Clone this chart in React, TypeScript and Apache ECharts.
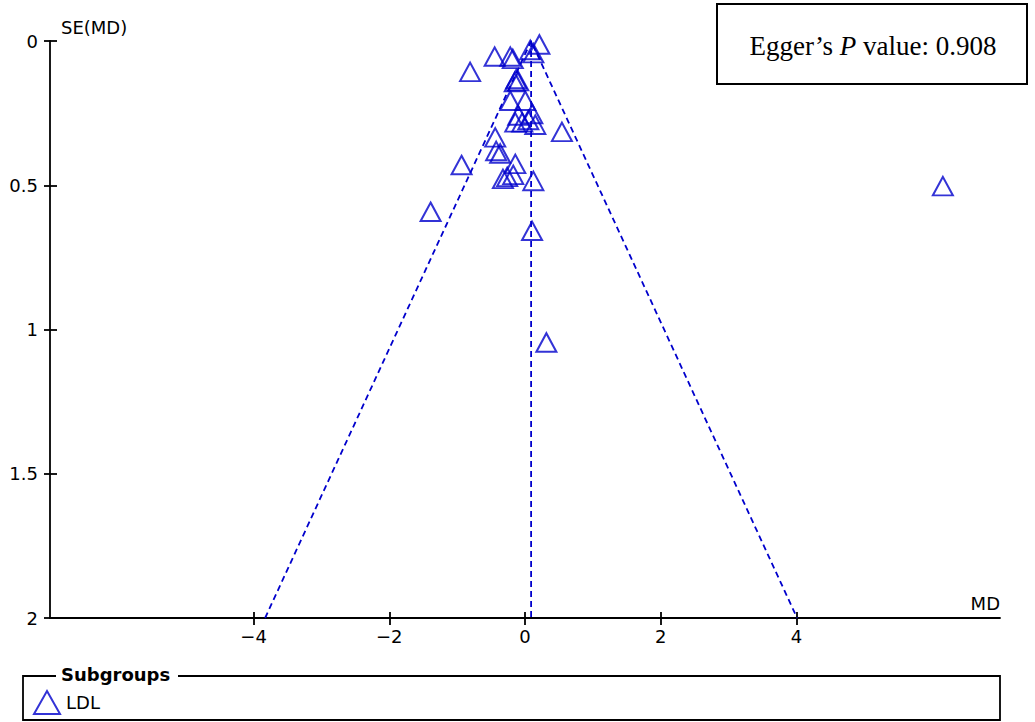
import React, { useEffect, useRef } from "react";
import * as echarts from "echarts";

// Study estimates (mean difference) and their standard errors
const md: number[] = [
  0.212, 0.078, 0.123, -0.447, -0.217, -0.18, -0.809, -0.129, -0.151, -0.099,
  -0.217, 0.004, -0.099, 0.108, -0.143, -0.04, 0.152, 0.049, 0.544, -0.439,
  -0.425, -0.366, -0.935, -0.143, -0.325, -0.262, -0.173, 0.123, -1.391, 0.104,
  0.315, 6.158,
];
const se: number[] = [
  0.012, 0.031, 0.042, 0.054, 0.054, 0.062, 0.107, 0.132, 0.142, 0.139,
  0.207, 0.207, 0.258, 0.253, 0.282, 0.282, 0.29, 0.274, 0.315, 0.334,
  0.381, 0.39, 0.43, 0.426, 0.478, 0.471, 0.464, 0.485, 0.592, 0.658,
  1.045, 0.503,
];

const xTicks: number[] = [-4, -2, 0, 2, 4];
const yTicks: number[] = [0, 0.5, 1, 1.5, 2];
const pooledMD = 0.09;
const seMax = 2;
const zCrit = 1.96;
const subgroup = "LDL";
const eggerP = "0.908";

const BLUE = "#0000CC";
const FONT = "DejaVu Sans";

const fmt = (v: number) => String(v).replace("-", "\u2212");

export default function App() {
  const ref = useRef<HTMLDivElement>(null);

  useEffect(() => {
    if (!ref.current) return;
    const chart = echarts.init(ref.current, undefined, { renderer: "svg" });

    const points = md.map((m, i) => [m, se[i]]);
    const funnel = [
      [pooledMD - zCrit * seMax, seMax],
      [pooledMD, 0],
      [pooledMD + zCrit * seMax, seMax],
    ];
    const center = [
      [pooledMD, 0],
      [pooledMD, seMax],
    ];

    const dashed = {
      type: "line",
      symbol: "none",
      silent: true,
      lineStyle: { color: BLUE, width: 1.8, type: [6, 4] },
      z: 1,
    };

    const axisText = { color: "#000", fontFamily: FONT, fontSize: 18 };
    const tickStyle = { color: "#000", width: 1.8 };

    chart.setOption({
      animation: false,
      grid: { left: 50, right: 35, top: 41, bottom: 104 },
      legend: {
        data: [{ name: subgroup, icon: "triangle" }],
        left: 28,
        top: 685,
        itemWidth: 26,
        itemHeight: 23,
        itemStyle: { color: "transparent", borderColor: BLUE, borderWidth: 2 },
        textStyle: { ...axisText, padding: [0, 0, 0, 1] },
        selectedMode: false,
      },
      xAxis: [
        {
          type: "value",
          min: -7,
          max: 7,
          position: "bottom",
          name: "MD",
          nameLocation: "end",
          nameGap: 0,
          nameTextStyle: {
            ...axisText,
            align: "right",
            verticalAlign: "bottom",
            padding: [0, 0, 6, 0],
          },
          axisLine: { show: true, onZero: false, lineStyle: tickStyle },
          axisTick: { show: true, length: 7, customValues: xTicks, lineStyle: tickStyle },
          axisLabel: { ...axisText, margin: 9, customValues: xTicks, formatter: fmt },
          splitLine: { show: false },
        },
        {
          type: "value",
          min: -7,
          max: 7,
          position: "bottom",
          axisLine: { show: false, onZero: false },
          axisTick: { show: true, inside: true, length: 6, customValues: xTicks, lineStyle: tickStyle },
          axisLabel: { show: false },
          splitLine: { show: false },
        },
      ],
      yAxis: [
        {
          type: "value",
          min: 0,
          max: 2,
          interval: 0.5,
          inverse: true,
          position: "left",
          name: "SE(MD)",
          nameLocation: "start",
          nameGap: 5,
          nameTextStyle: {
            ...axisText,
            align: "left",
            verticalAlign: "bottom",
            padding: [0, 0, 0, 11],
          },
          axisLine: { show: true, onZero: false, lineStyle: tickStyle },
          axisTick: { show: true, length: 6, lineStyle: tickStyle },
          axisLabel: { ...axisText, margin: 12, customValues: yTicks },
          splitLine: { show: false },
        },
        {
          type: "value",
          min: 0,
          max: 2,
          interval: 0.5,
          inverse: true,
          position: "left",
          axisLine: { show: false, onZero: false },
          axisTick: { show: true, inside: true, length: 7, lineStyle: tickStyle },
          axisLabel: { show: false },
          splitLine: { show: false },
        },
      ],
      series: [
        { ...dashed, name: "funnel", data: funnel },
        { ...dashed, name: "pooled", data: center },
        {
          name: subgroup,
          type: "scatter",
          symbol: "triangle",
          symbolSize: [20, 18.5],
          data: points,
          itemStyle: { color: "transparent", borderColor: BLUE, borderWidth: 2 },
          z: 3,
        },
      ],
      graphic: [
        {
          type: "rect",
          shape: { x: 717, y: 4, width: 310, height: 80 },
          style: { fill: "#fff", stroke: "#000", lineWidth: 2 },
          z: 10,
        },
        {
          type: "text",
          x: 873,
          y: 46,
          z: 11,
          style: {
            text: "{a|Egger\u2019s }{b|P}{a| value: " + eggerP + "}",
            align: "center",
            verticalAlign: "middle",
            rich: {
              a: { fontFamily: "Liberation Serif", fontSize: 27, fill: "#000" },
              b: { fontFamily: "Liberation Serif", fontSize: 27, fontStyle: "italic", fill: "#000" },
            },
          },
        },
        {
          type: "polyline",
          shape: {
            points: [
              [56, 676],
              [23, 676],
              [23, 720],
              [1000, 720],
              [1000, 676],
              [178, 676],
            ],
          },
          style: { stroke: "#000", lineWidth: 1.8, fill: null },
          z: 5,
        },
        {
          type: "text",
          x: 61,
          y: 674,
          z: 6,
          style: {
            text: "Subgroups",
            fontFamily: FONT,
            fontSize: 18,
            fontWeight: "bold",
            fill: "#000",
            align: "left",
            verticalAlign: "middle",
          },
        },
      ],
    });

    return () => chart.dispose();
  }, []);

  return (
    <div
      ref={ref}
      style={{ position: "fixed", left: 0, top: 0, width: 1035, height: 722, background: "#fff" }}
    />
  );
}
